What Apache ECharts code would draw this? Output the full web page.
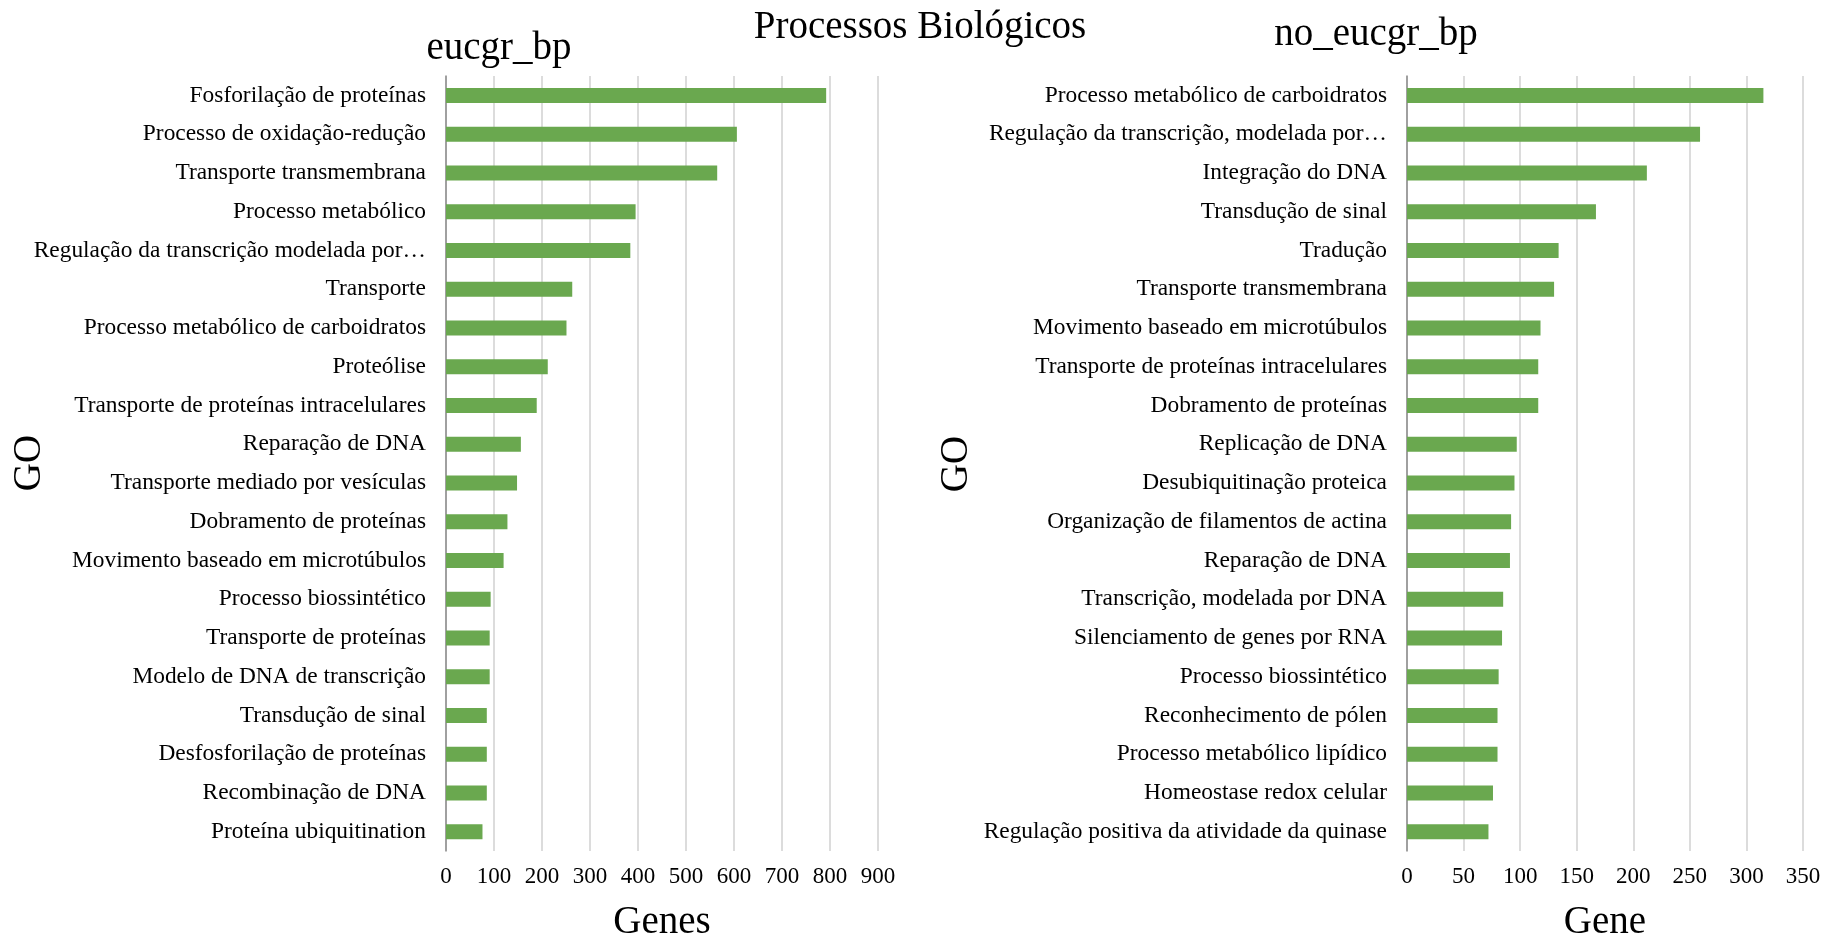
<!DOCTYPE html>
<html>
<head>
<meta charset="utf-8">
<title>Processos Biológicos</title>
<script src="https://cdn.jsdelivr.net/npm/echarts/dist/echarts.min.js"></script>
<style>
html, body {
    margin: 0;
    padding: 0;
    background: #fff;
}
#chart {
    width: 1836px;
    height: 939px;
}
</style>
</head>
<body>
<div id="chart"></div>
<script>
// eucgr_bp (left panel), top to bottom
var eucgrTerms = [
    'Fosforilação de proteínas',
    'Processo de oxidação-redução',
    'Transporte transmembrana',
    'Processo metabólico',
    'Regulação da transcrição modelada por…',
    'Transporte',
    'Processo metabólico de carboidratos',
    'Proteólise',
    'Transporte de proteínas intracelulares',
    'Reparação de DNA',
    'Transporte mediado por vesículas',
    'Dobramento de proteínas',
    'Movimento baseado em microtúbulos',
    'Processo biossintético',
    'Transporte de proteínas',
    'Modelo de DNA de transcrição',
    'Transdução de sinal',
    'Desfosforilação de proteínas',
    'Recombinação de DNA',
    'Proteína ubiquitination'
];
var eucgrGenes = [792, 606, 565, 395, 384, 263, 251, 212, 189, 156,
                  148, 128, 120, 93, 91, 91, 85, 85, 85, 76];

// no_eucgr_bp (right panel), top to bottom
var noEucgrTerms = [
    'Processo metabólico de carboidratos',
    'Regulação da transcrição, modelada por…',
    'Integração do DNA',
    'Transdução de sinal',
    'Tradução',
    'Transporte transmembrana',
    'Movimento baseado em microtúbulos',
    'Transporte de proteínas intracelulares',
    'Dobramento de proteínas',
    'Replicação de DNA',
    'Desubiquitinação proteica',
    'Organização de filamentos de actina',
    'Reparação de DNA',
    'Transcrição, modelada por DNA',
    'Silenciamento de genes por RNA',
    'Processo biossintético',
    'Reconhecimento de pólen',
    'Processo metabólico lipídico',
    'Homeostase redox celular',
    'Regulação positiva da atividade da quinase'
];
var noEucgrGenes = [315, 259, 212, 167, 134, 130, 118, 116, 116, 97,
                    95, 92, 91, 85, 84, 81, 80, 80, 76, 72];

var FONT = '"Liberation Serif", "Times New Roman", serif';
var BAR_COLOR = '#6aa84f';

function valueAxis(gridIndex, max, interval) {
    return {
        type: 'value',
        gridIndex: gridIndex,
        min: 0,
        max: max,
        interval: interval,
        axisLine: { show: false },
        axisTick: { show: false },
        axisLabel: { fontFamily: FONT, fontSize: 23, color: '#000', margin: 14 },
        splitLine: { lineStyle: { color: '#d0d0d0', width: 1.5 } }
    };
}

// main category axis: labels + outer half of the boundary ticks
function termAxis(gridIndex, terms) {
    return {
        type: 'category',
        gridIndex: gridIndex,
        data: terms,
        inverse: true,
        axisLine: { lineStyle: { color: '#8c8c8c', width: 1.5 } },
        axisTick: { length: 7, lineStyle: { color: '#8c8c8c', width: 1.5 } },
        axisLabel: {
            fontFamily: FONT, fontSize: 23.4, color: '#000', margin: 20,
            padding: [4, 0, 0, 0]
        }
    };
}

// second axis on the same line, only draws the inner half of the ticks
function innerTickAxis(gridIndex, terms) {
    return {
        type: 'category',
        gridIndex: gridIndex,
        data: terms,
        inverse: true,
        position: 'left',
        axisLine: { show: false },
        axisLabel: { show: false },
        axisTick: { inside: true, length: 8, lineStyle: { color: '#8c8c8c', width: 1.5 } }
    };
}

function bars(axisIndex, values) {
    return {
        type: 'bar',
        xAxisIndex: axisIndex,
        yAxisIndex: axisIndex * 2,
        data: values,
        barWidth: 15,
        itemStyle: { color: BAR_COLOR },
        silent: true
    };
}

function label(text, x, y, size, rotate) {
    return {
        type: 'text',
        x: x,
        y: y,
        rotation: rotate ? Math.PI / 2 : 0,
        style: {
            text: text,
            fontFamily: FONT,
            fontSize: size,
            fill: '#000',
            align: 'center',
            verticalAlign: 'middle'
        }
    };
}

var chart = echarts.init(document.getElementById('chart'));

chart.setOption({
    backgroundColor: '#fff',
    animation: false,
    grid: [
        { left: 446, top: 76, width: 432, height: 775 },
        { left: 1407, top: 76, width: 396, height: 775 }
    ],
    xAxis: [
        valueAxis(0, 900, 100),
        valueAxis(1, 350, 50)
    ],
    yAxis: [
        termAxis(0, eucgrTerms),
        innerTickAxis(0, eucgrTerms),
        termAxis(1, noEucgrTerms),
        innerTickAxis(1, noEucgrTerms)
    ],
    series: [
        bars(0, eucgrGenes),
        bars(1, noEucgrGenes)
    ],
    graphic: [
        label('Processos Biológicos', 920, 28, 39),
        label('eucgr_bp', 499, 49, 39),
        label('no_eucgr_bp', 1376, 35, 39),
        label('GO', 30, 463, 39, true),
        label('GO', 957, 464, 39, true),
        label('Genes', 662, 923, 39),
        label('Gene', 1605, 923, 39)
    ]
});
</script>
</body>
</html>
